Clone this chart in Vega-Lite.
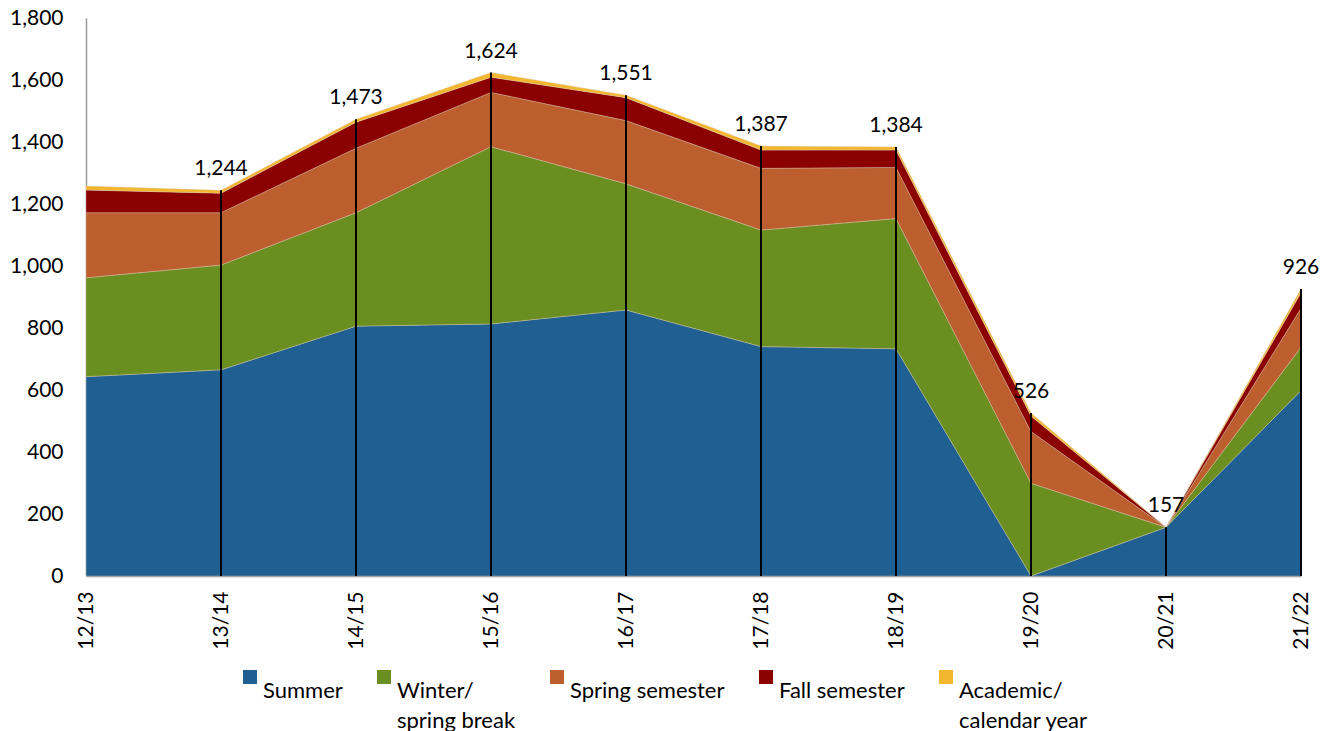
{
  "$schema": "https://vega.github.io/schema/vega-lite/v6.json",
  "width": 1215,
  "height": 558,
  "autosize": {"type": "none"},
  "padding": {"left": 86, "top": 18, "right": 31, "bottom": 155},
  "background": "white",
  "config": {
    "font": "Lato",
    "view": {"stroke": null},
    "style": {"guide-label": {"lineHeight": 30}},
    "axis": {"labelFont": "Lato", "labelFontSize": 21, "labelColor": "#000000", "grid": false, "ticks": false, "domainColor": "#9a9a9a", "domainWidth": 1.5, "title": null},
    "legend": {"labelFont": "Lato", "labelFontSize": 22, "labelColor": "#000000"}
  },
  "datasets": {
    "series": [
      {"year": "12/13", "type": "Summer", "ord": 1, "value": 643},
      {"year": "12/13", "type": "Winter/ spring break", "ord": 2, "value": 319},
      {"year": "12/13", "type": "Spring semester", "ord": 3, "value": 210},
      {"year": "12/13", "type": "Fall semester", "ord": 4, "value": 73},
      {"year": "12/13", "type": "Academic/ calendar year", "ord": 5, "value": 13},
      {"year": "13/14", "type": "Summer", "ord": 1, "value": 665},
      {"year": "13/14", "type": "Winter/ spring break", "ord": 2, "value": 338},
      {"year": "13/14", "type": "Spring semester", "ord": 3, "value": 169},
      {"year": "13/14", "type": "Fall semester", "ord": 4, "value": 63},
      {"year": "13/14", "type": "Academic/ calendar year", "ord": 5, "value": 9},
      {"year": "14/15", "type": "Summer", "ord": 1, "value": 806},
      {"year": "14/15", "type": "Winter/ spring break", "ord": 2, "value": 366},
      {"year": "14/15", "type": "Spring semester", "ord": 3, "value": 208},
      {"year": "14/15", "type": "Fall semester", "ord": 4, "value": 84},
      {"year": "14/15", "type": "Academic/ calendar year", "ord": 5, "value": 9},
      {"year": "15/16", "type": "Summer", "ord": 1, "value": 813},
      {"year": "15/16", "type": "Winter/ spring break", "ord": 2, "value": 572},
      {"year": "15/16", "type": "Spring semester", "ord": 3, "value": 175},
      {"year": "15/16", "type": "Fall semester", "ord": 4, "value": 49},
      {"year": "15/16", "type": "Academic/ calendar year", "ord": 5, "value": 15},
      {"year": "16/17", "type": "Summer", "ord": 1, "value": 858},
      {"year": "16/17", "type": "Winter/ spring break", "ord": 2, "value": 407},
      {"year": "16/17", "type": "Spring semester", "ord": 3, "value": 204},
      {"year": "16/17", "type": "Fall semester", "ord": 4, "value": 74},
      {"year": "16/17", "type": "Academic/ calendar year", "ord": 5, "value": 8},
      {"year": "17/18", "type": "Summer", "ord": 1, "value": 740},
      {"year": "17/18", "type": "Winter/ spring break", "ord": 2, "value": 376},
      {"year": "17/18", "type": "Spring semester", "ord": 3, "value": 199},
      {"year": "17/18", "type": "Fall semester", "ord": 4, "value": 59},
      {"year": "17/18", "type": "Academic/ calendar year", "ord": 5, "value": 13},
      {"year": "18/19", "type": "Summer", "ord": 1, "value": 733},
      {"year": "18/19", "type": "Winter/ spring break", "ord": 2, "value": 420},
      {"year": "18/19", "type": "Spring semester", "ord": 3, "value": 165},
      {"year": "18/19", "type": "Fall semester", "ord": 4, "value": 56},
      {"year": "18/19", "type": "Academic/ calendar year", "ord": 5, "value": 10},
      {"year": "19/20", "type": "Summer", "ord": 1, "value": 0},
      {"year": "19/20", "type": "Winter/ spring break", "ord": 2, "value": 299},
      {"year": "19/20", "type": "Spring semester", "ord": 3, "value": 167},
      {"year": "19/20", "type": "Fall semester", "ord": 4, "value": 50},
      {"year": "19/20", "type": "Academic/ calendar year", "ord": 5, "value": 10},
      {"year": "20/21", "type": "Summer", "ord": 1, "value": 157},
      {"year": "20/21", "type": "Winter/ spring break", "ord": 2, "value": 0},
      {"year": "20/21", "type": "Spring semester", "ord": 3, "value": 0},
      {"year": "20/21", "type": "Fall semester", "ord": 4, "value": 0},
      {"year": "20/21", "type": "Academic/ calendar year", "ord": 5, "value": 0},
      {"year": "21/22", "type": "Summer", "ord": 1, "value": 598},
      {"year": "21/22", "type": "Winter/ spring break", "ord": 2, "value": 140},
      {"year": "21/22", "type": "Spring semester", "ord": 3, "value": 126},
      {"year": "21/22", "type": "Fall semester", "ord": 4, "value": 50},
      {"year": "21/22", "type": "Academic/ calendar year", "ord": 5, "value": 12}
    ],
    "totals": [
      {"year": "13/14", "total": 1244},
      {"year": "14/15", "total": 1473},
      {"year": "15/16", "total": 1624},
      {"year": "16/17", "total": 1551},
      {"year": "17/18", "total": 1387},
      {"year": "18/19", "total": 1384},
      {"year": "19/20", "total": 526},
      {"year": "20/21", "total": 157},
      {"year": "21/22", "total": 926}
    ]
  },
  "layer": [
    {
      "data": {"name": "series"},
      "mark": {"type": "area", "stroke": "#d8c8b0", "strokeWidth": 0.4},
      "encoding": {
        "x": {
          "field": "year", "type": "ordinal",
          "sort": ["12/13", "13/14", "14/15", "15/16", "16/17", "17/18", "18/19", "19/20", "20/21", "21/22"],
          "scale": {"type": "point", "padding": 0},
          "axis": {"labelAngle": -90, "labelAlign": "right", "labelBaseline": "middle", "labelPadding": 15}
        },
        "y": {
          "field": "value", "type": "quantitative", "stack": "zero",
          "scale": {"domain": [0, 1800], "nice": false},
          "axis": {"values": [0, 200, 400, 600, 800, 1000, 1200, 1400, 1600, 1800], "labelExpr": "format(datum.value, ',')", "labelPadding": 23}
        },
        "order": {"field": "ord", "type": "quantitative"},
        "color": {
          "field": "type", "type": "nominal",
          "scale": {
            "domain": ["Summer", "Winter/ spring break", "Spring semester", "Fall semester", "Academic/ calendar year"],
            "range": ["#1f5f91", "#6a8f20", "#bd5e2f", "#8b0000", "#f3b72f"]
          },
          "legend": {
            "title": null,
            "orient": "none",
            "direction": "horizontal",
            "legendX": 153,
            "legendY": 648,
            "symbolType": "square",
            "symbolSize": 196,
            "symbolStrokeWidth": 0,
            "labelOffset": 2,
            "columnPadding": 30,
            "labelBaseline": "line-top",
            "labelExpr": "datum.label == 'Winter/ spring break' ? ['Winter/', 'spring break'] : datum.label == 'Academic/ calendar year' ? ['Academic/', 'calendar year'] : [datum.label, ' ']"
          }
        }
      }
    },
    {
      "data": {"name": "totals"},
      "mark": {"type": "rule", "color": "#000000", "strokeWidth": 2},
      "encoding": {
        "x": {"field": "year", "type": "ordinal", "sort": ["12/13", "13/14", "14/15", "15/16", "16/17", "17/18", "18/19", "19/20", "20/21", "21/22"]},
        "y": {"field": "total", "type": "quantitative"},
        "y2": {"datum": 0}
      }
    },
    {
      "data": {"name": "totals"},
      "mark": {"type": "text", "fontSize": 21, "font": "Lato", "color": "#000000", "baseline": "middle", "dy": -21},
      "encoding": {
        "x": {"field": "year", "type": "ordinal", "sort": ["12/13", "13/14", "14/15", "15/16", "16/17", "17/18", "18/19", "19/20", "20/21", "21/22"]},
        "y": {"field": "total", "type": "quantitative"},
        "text": {"field": "total", "type": "quantitative", "format": ","}
      }
    }
  ]
}
